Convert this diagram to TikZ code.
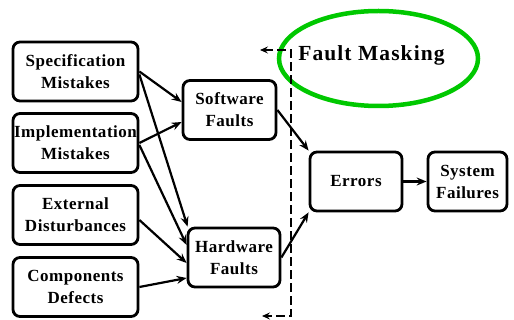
\documentclass[tikz,border=0pt]{standalone}
\usepackage{fontspec}
\setmainfont{Liberation Serif}[LetterSpace=3]
\newfontfamily\titlefont{Liberation Serif}[LetterSpace=5]
\usetikzlibrary{arrows.meta,shapes.geometric}
\definecolor{maskgreen}{RGB}{0,200,0}
\begin{document}
\begin{tikzpicture}[x=1pt,y=-1pt,
  box/.style={draw,line width=2.8pt,rounded corners=7pt,align=center,
    font=\bfseries\fontsize{17}{22}\selectfont,inner sep=0pt,minimum height=59pt},
  conn/.style={line width=2.2pt,-{Stealth[length=10pt,width=8pt,inset=3.5pt]}},
  mask/.style={line width=2.2pt,dash pattern=on 9pt off 4pt,
    {Stealth[length=8pt,width=7pt,inset=3pt]}-{Stealth[length=8pt,width=7pt,inset=3pt]}}]
\useasboundingbox (0,0) rectangle (514,320);
% left column
\node[box,minimum width=125pt] (spec) at (75.5,71.5) {Specification\\Mistakes};
\node[box,minimum width=125pt] (impl) at (75.5,143) {Implementation\\Mistakes};
\node[box,minimum width=125pt] (ext) at (75.5,215) {External\\Disturbances};
\node[box,minimum width=125pt] (comp) at (75.5,287) {Components\\Defects};
% faults
\node[box,minimum width=93pt] (sw) at (229.5,110) {Software\\Faults};
\node[box,minimum width=92pt] (hw) at (234,257.5) {Hardware\\Faults};
% errors and failures
\node[box,minimum width=92pt] (err) at (356,181.5) {Errors};
\node[box,minimum width=79pt] (sys) at (467.5,181.5) {System\\Failures};
% fault masking
\node[draw=maskgreen,line width=4.5pt,ellipse,minimum width=199pt,minimum height=95pt,inner sep=0pt] (ell) at (378.5,58.5) {};
\node[anchor=base,font=\titlefont\bfseries\fontsize{21.5}{24}\selectfont,inner sep=0pt] (fm) at (371.5,61) {Fault Masking};
\coordinate (mtop) at (260,50);
\coordinate (mbot) at (262,316);
\draw[mask] (mtop) -- (291,50) -- (291,316) -- (mbot);
% connectors
\draw[conn] (spec.east) -- ([yshift=8pt]sw.west);
\draw[conn] (impl.east) -- ([yshift=-12pt]sw.west);
\draw[conn] ([yshift=-3pt]spec.east) -- ([xshift=1pt]hw.north west);
\draw[conn] ([yshift=-2pt]impl.east) -- ([yshift=12.5pt]hw.west);
\draw[conn] ([yshift=-5pt]ext.east) -- ([yshift=-5.5pt]hw.west);
\draw[conn] (comp.east) -- ([yshift=-20.5pt]hw.west);
\draw[conn] (sw.east) -- (err.north west);
\draw[conn] (hw.east) -- (err.south west);
\draw[conn] (err.east) -- (sys.west);
\end{tikzpicture}
\end{document}
